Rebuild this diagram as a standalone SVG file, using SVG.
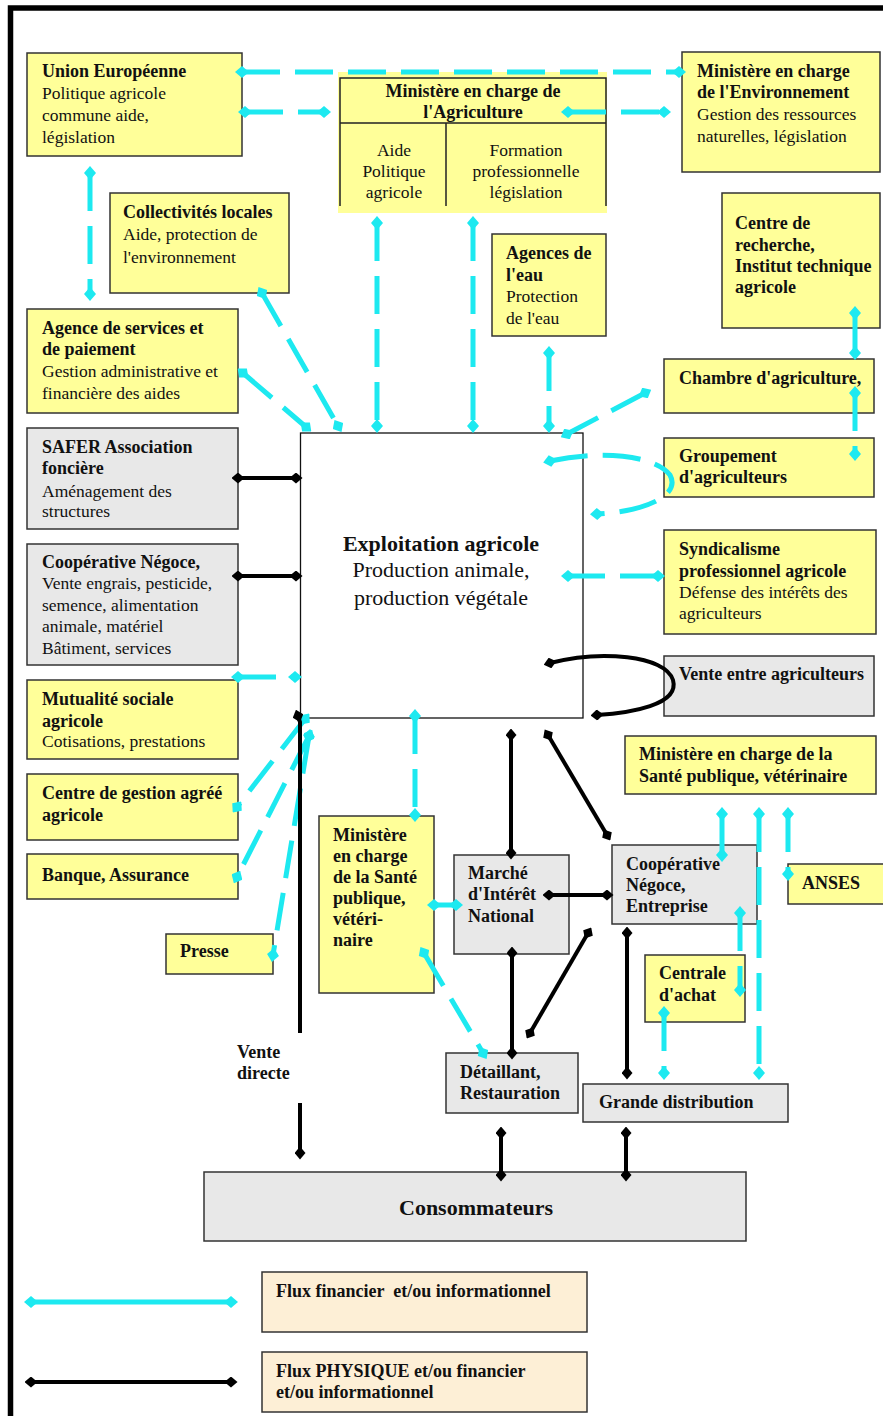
<svg xmlns="http://www.w3.org/2000/svg" width="883" height="1416" viewBox="0 0 883 1416">
<defs>
<style>
.y{fill:#FFFF99;stroke:#333;stroke-width:1.5}
.g{fill:#E8E8E8;stroke:#333;stroke-width:1.5}
.l{fill:#FDEFD6;stroke:#333;stroke-width:1.5}
text{font-family:"Liberation Serif","Times New Roman",serif;font-size:17.5px;fill:#111}
.b{font-weight:bold;font-size:18px}
.m{text-anchor:middle}
.c{stroke:#1DE9F0;stroke-width:5;fill:none;stroke-dasharray:38 15;marker-start:url(#dc);marker-end:url(#dc)}
.cs{stroke:#1DE9F0;stroke-width:5;fill:none;marker-start:url(#dc);marker-end:url(#dc)}
.k{stroke:#000;stroke-width:4;fill:none;marker-start:url(#dk);marker-end:url(#dk)}
</style>
<marker id="dc" markerUnits="userSpaceOnUse" markerWidth="14" markerHeight="12" refX="7" refY="6" orient="auto"><path d="M0,6 L7,0 L14,6 L7,12 Z" fill="#1DE9F0"/></marker>
<marker id="dk" markerUnits="userSpaceOnUse" markerWidth="13" markerHeight="11" refX="6.5" refY="5.5" orient="auto"><path d="M0,5.5 L6.5,0 L13,5.5 L6.5,11 Z" fill="#000"/></marker>
</defs>
<rect width="883" height="1416" fill="#fff"/>
<path d="M10.5,1416 V8 H883" fill="none" stroke="#000" stroke-width="5.5"/>

<g id="nodes">
<g id="union-europeenne"><rect class="y" x="27" y="53" width="215" height="103"/>
<text class="b" x="42" y="77">Union Européenne</text><text x="42" y="99">Politique agricole</text><text x="42" y="121">commune aide,</text><text x="42" y="143">législation</text></g>

<g id="ministere-agriculture"><rect x="338" y="72" width="269" height="141" fill="#FFFF99"/>
<path d="M340,206 V78 H606 V206 M340,123 H606 M446,123 V206" fill="none" stroke="#222" stroke-width="1.5"/>
<text class="b m" x="473" y="97">Ministère en charge de</text><text class="b m" x="473" y="118">l'Agriculture</text>
<text class="m" x="394" y="156">Aide</text><text class="m" x="394" y="177">Politique</text><text class="m" x="394" y="198">agricole</text>
<text class="m" x="526" y="156">Formation</text><text class="m" x="526" y="177">professionnelle</text><text class="m" x="526" y="198">législation</text></g>

<g id="ministere-environnement"><rect class="y" x="682" y="52" width="198" height="120"/>
<text class="b" x="697" y="77">Ministère en charge</text><text class="b" x="697" y="98">de l'Environnement</text><text x="697" y="120">Gestion des ressources</text><text x="697" y="142">naturelles, législation</text></g>

<g id="collectivites-locales"><rect class="y" x="110" y="193" width="179" height="100"/>
<text class="b" x="123" y="218">Collectivités locales</text><text x="123" y="240">Aide, protection de</text><text x="123" y="263">l'environnement</text></g>

<g id="agences-eau"><rect class="y" x="492" y="234" width="114" height="102"/>
<text class="b" x="506" y="259">Agences de</text><text class="b" x="506" y="281">l'eau</text><text x="506" y="302">Protection</text><text x="506" y="324">de l'eau</text></g>

<g id="centre-recherche"><rect class="y" x="722" y="193" width="158" height="135"/>
<text class="b" x="735" y="229">Centre de</text><text class="b" x="735" y="251">recherche,</text><text class="b" x="735" y="272">Institut technique</text><text class="b" x="735" y="293">agricole</text></g>

<g id="agence-services-paiement"><rect class="y" x="27" y="309" width="211" height="104"/>
<text class="b" x="42" y="334">Agence de services et</text><text class="b" x="42" y="355">de paiement</text><text x="42" y="377">Gestion administrative et</text><text x="42" y="399">financière des aides</text></g>

<g id="chambre-agriculture"><rect class="y" x="664" y="359" width="210" height="54"/>
<text class="b" x="679" y="384">Chambre d'agriculture,</text></g>

<g id="safer"><rect class="g" x="27" y="428" width="211" height="101"/>
<text class="b" x="42" y="453">SAFER Association</text><text class="b" x="42" y="474">foncière</text><text x="42" y="497">Aménagement des</text><text x="42" y="517">structures</text></g>

<g id="groupement-agriculteurs"><rect class="y" x="664" y="438" width="210" height="59"/>
<text class="b" x="679" y="462">Groupement</text><text class="b" x="679" y="483">d'agriculteurs</text></g>

<g id="cooperative-negoce"><rect class="g" x="27" y="544" width="211" height="121"/>
<text class="b" x="42" y="568">Coopérative Négoce,</text><text x="42" y="589">Vente engrais, pesticide,</text><text x="42" y="611">semence, alimentation</text><text x="42" y="632">animale, matériel</text><text x="42" y="654">Bâtiment, services</text></g>

<g id="exploitation-agricole"><rect x="300.5" y="433" width="282.5" height="285" fill="#fff" stroke="#111" stroke-width="1.3"/>
<text class="b m" x="441" y="551" style="font-size:22px">Exploitation agricole</text><text class="m" x="441" y="577" style="font-size:22px">Production animale,</text><text class="m" x="441" y="605" style="font-size:22px">production végétale</text></g>

<g id="syndicalisme"><rect class="y" x="664" y="530" width="212" height="104"/>
<text class="b" x="679" y="555">Syndicalisme</text><text class="b" x="679" y="577">professionnel agricole</text><text x="679" y="598">Défense des intérêts des</text><text x="679" y="619">agriculteurs</text></g>

<g id="vente-entre-agriculteurs"><rect class="g" x="664" y="656" width="210" height="60"/>
<text class="b" x="679" y="680">Vente entre agriculteurs</text></g>

<g id="mutualite-sociale"><rect class="y" x="27" y="680" width="211" height="79"/>
<text class="b" x="42" y="705">Mutualité sociale</text><text class="b" x="42" y="727">agricole</text><text x="42" y="747">Cotisations, prestations</text></g>

<g id="centre-gestion"><rect class="y" x="27" y="774" width="211" height="66"/>
<text class="b" x="42" y="799">Centre de gestion agréé</text><text class="b" x="42" y="821">agricole</text></g>

<g id="banque-assurance"><rect class="y" x="27" y="854" width="211" height="45"/>
<text class="b" x="42" y="881">Banque, Assurance</text></g>

<g id="presse"><rect class="y" x="166" y="934" width="107" height="40"/>
<text class="b" x="180" y="957">Presse</text></g>

<g id="ministere-sante-centre"><rect class="y" x="319" y="816" width="115" height="177"/>
<text class="b" x="333" y="841">Ministère</text><text class="b" x="333" y="862">en charge</text><text class="b" x="333" y="883">de la Santé</text><text class="b" x="333" y="904">publique,</text><text class="b" x="333" y="925">vétéri-</text><text class="b" x="333" y="946">naire</text></g>

<g id="ministere-sante-droite"><rect class="y" x="625" y="736" width="251" height="58"/>
<text class="b" x="639" y="760">Ministère en charge de la</text><text class="b" x="639" y="782">Santé publique, vétérinaire</text></g>

<g id="marche-interet-national"><rect class="g" x="454" y="855" width="115" height="99"/>
<text class="b" x="468" y="879">Marché</text><text class="b" x="468" y="900">d'Intérêt</text><text class="b" x="468" y="922">National</text></g>

<g id="cooperative-entreprise"><rect class="g" x="612" y="845" width="145" height="79"/>
<text class="b" x="626" y="870">Coopérative</text><text class="b" x="626" y="891">Négoce,</text><text class="b" x="626" y="912">Entreprise</text></g>

<g id="anses"><rect class="y" x="788" y="864" width="97" height="40"/>
<text class="b" x="802" y="889">ANSES</text></g>

<g id="centrale-achat"><rect class="y" x="645" y="955" width="100" height="67"/>
<text class="b" x="659" y="979">Centrale</text><text class="b" x="659" y="1001">d'achat</text></g>

<g id="detaillant-restauration"><rect class="g" x="446" y="1053" width="132" height="60"/>
<text class="b" x="460" y="1078">Détaillant,</text><text class="b" x="460" y="1099">Restauration</text></g>

<g id="grande-distribution"><rect class="g" x="583" y="1084" width="205" height="38"/>
<text class="b" x="599" y="1108">Grande distribution</text></g>

<g id="consommateurs"><rect class="g" x="204" y="1172" width="542" height="69"/>
<text class="b m" x="476" y="1215" style="font-size:22px">Consommateurs</text></g>

<g id="vente-directe"><text class="b" x="237" y="1058">Vente</text><text class="b" x="237" y="1079">directe</text></g>

<g id="legende-financier"><rect class="l" x="262" y="1272" width="325" height="60"/>
<text class="b" x="276" y="1297" xml:space="preserve">Flux financier  et/ou informationnel</text></g>

<g id="legende-physique"><rect class="l" x="262" y="1352" width="325" height="60"/>
<text class="b" x="276" y="1377">Flux PHYSIQUE et/ou financier</text><text class="b" x="276" y="1398">et/ou informationnel</text></g>
</g>

<g id="connectors">
<path class="c" d="M242,72 H679"/>
<path class="c" d="M245,112 H324"/>
<path class="c" d="M568,112 H664"/>
<path class="c" d="M90,173 V294"/>
<path class="c" d="M377,223 V426"/>
<path class="c" d="M473,223 V426"/>
<path class="c" d="M262,293 L338,426"/>
<path class="c" d="M243,373 L306,427"/>
<path class="c" d="M549,353 V426"/>
<path class="c" d="M645,393 L567,434"/>
<path class="c" d="M855,313 V353"/>
<path class="c" d="M855,393 V454"/>
<path class="c" d="M550,461 C600,450 655,455 670,475 C682,497 640,512 597,514"/>
<path class="c" d="M658,576 H568"/>
<path class="c" d="M238,677 H295"/>
<path class="c" d="M305,719 L237,807"/>
<path class="c" d="M309,736 L237,877"/>
<path class="c" d="M309,736 L273,955"/>
<path class="c" d="M415,716 V815"/>
<path class="c" d="M434,905 H456"/>
<path class="c" d="M424,953 L483,1053"/>
<path class="c" d="M722,814 V855"/>
<path class="c" d="M759,814 V1073"/>
<path class="c" d="M788,814 V874"/>
<path class="c" d="M740,913 V990"/>
<path class="c" d="M664,1013 V1073"/>

<path class="k" d="M238,478 H296"/>
<path class="k" d="M238,576 H296"/>
<path class="k" d="M550,663 C600,650 665,655 673,680 C680,705 630,713 597,715"/>
<path d="M298,716 L300,722 V1033" fill="none" stroke="#000" stroke-width="4" marker-start="url(#dk)"/>
<path d="M300,1103 V1153" fill="none" stroke="#000" stroke-width="4" marker-end="url(#dk)"/>
<path class="k" d="M511,735 V853"/>
<path class="k" d="M548,735 L607,835"/>
<path class="k" d="M549,895 H607"/>
<path class="k" d="M512,953 V1053"/>
<path class="k" d="M530,1033 L588,933"/>
<path class="k" d="M627,933 V1073"/>
<path class="k" d="M501,1133 V1175"/>
<path class="k" d="M626,1133 V1175"/>

<path class="cs" d="M31,1302 H231"/>
<path class="k" d="M31,1382 H231"/>
</g>
</svg>
